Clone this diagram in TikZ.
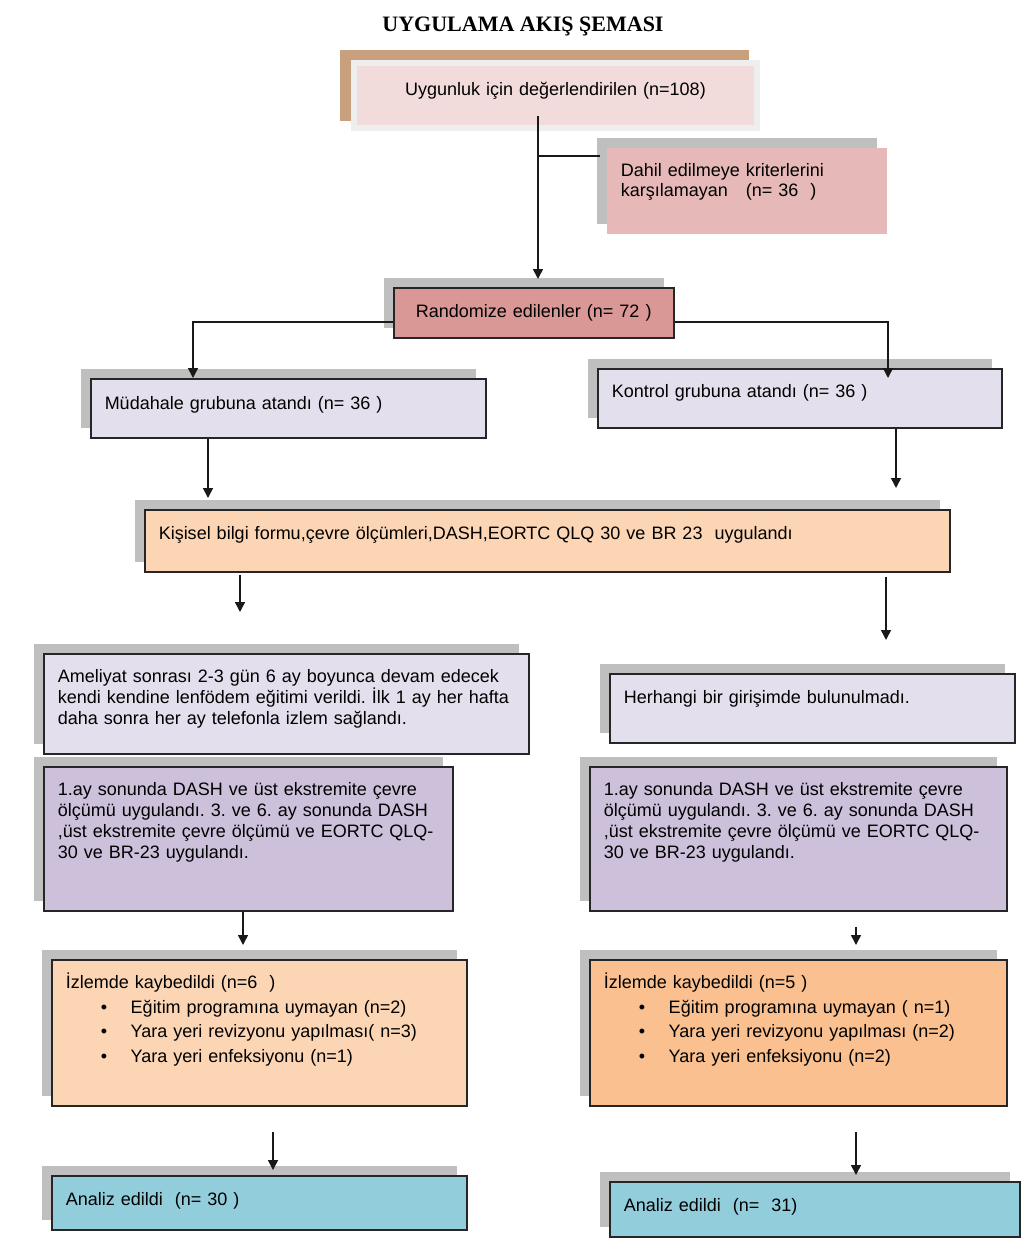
\documentclass[tikz,border=0pt]{standalone}
\usepackage{fontspec}
\setmainfont{Liberation Sans}
\newfontfamily\titlefont{Liberation Serif}
\usepackage{xcolor}
\usetikzlibrary{arrows.meta, shadows, calc}

\definecolor{shadowgray}{HTML}{BFBFBF}
\definecolor{tanshadow}{HTML}{C9A07E}
\definecolor{paleborder}{HTML}{EEEEEE}
\definecolor{palepink}{HTML}{F2DCDB}
\definecolor{rosebox}{HTML}{E6B8B7}
\definecolor{randred}{HTML}{D99795}
\definecolor{lilac}{HTML}{E4DFEC}
\definecolor{purplebox}{HTML}{CCC0DA}
\definecolor{peach}{HTML}{FCD5B4}
\definecolor{orangebox}{HTML}{FAC090}
\definecolor{cyanbox}{HTML}{92CDDC}

\newcommand{\bulletline}[1]{\makebox[65pt][l]{\hspace{35pt}\textbullet}#1}
\frenchspacing

\begin{document}
\begin{tikzpicture}[x=1pt, y=-1pt,
    box/.style={draw=black!85, line width=1.5pt, anchor=north west, align=left,
      inner xsep=14pt, inner ysep=0pt, font=\fontsize{18}{21}\selectfont},
    shadowed/.style={general shadow={fill=shadowgray, shadow xshift=-10pt, shadow yshift=10pt}},
    arr/.style={-{Triangle[width=10pt, length=10pt]}, line width=1.5pt, black!90}]
  \useasboundingbox (0,0) rectangle (1024,1253);

  \node[font=\titlefont\bfseries\fontsize{22}{26}\selectfont] (title) at (523,26) {UYGULAMA AKIŞ ŞEMASI};

  \node[box, draw=paleborder, line width=6pt, fill=palepink, align=center, text width=375pt, text height=32pt, text depth=33pt,
    general shadow={fill=tanshadow, draw=tanshadow, line width=6pt, shadow xshift=-11pt, shadow yshift=10pt}]
    (uyg) at (351,60) {Uygunluk için değerlendirilen (n=108)};
  \node[box, shadowed, draw=none, fill=rosebox, text width=252pt, text height=29pt, text depth=57pt, font=\fontsize{18}{20}\selectfont]
    (dah) at (606,147) {Dahil edilmeye kriterlerini\\karşılamayan~~~(n=~36~~)};
  \node[box, shadowed, fill=randred, align=center, text width=252pt, text height=30pt, text depth=20pt]
    (rand) at (393,287) {Randomize edilenler (n= 72 )};
  \node[box, shadowed, fill=lilac, text width=367pt, text height=31pt, text depth=28pt]
    (mud) at (90,378) {Müdahale grubuna atandı (n= 36 )};
  \node[box, shadowed, fill=lilac, text width=376pt, text height=29pt, text depth=30pt]
    (kon) at (597,368) {Kontrol grubuna atandı (n= 36 )};
  \node[box, shadowed, fill=peach, text width=777pt, text height=30pt, text depth=32pt]
    (kis) at (144,509) {Kişisel bilgi formu,çevre ölçümleri,DASH,EORTC QLQ 30 ve BR 23~~uygulandı};
  \node[box, shadowed, fill=lilac, text width=457pt, text height=29pt, text depth=71pt]
    (ame) at (43,653) {Ameliyat sonrası 2-3 gün 6 ay boyunca devam edecek\\kendi kendine lenfödem eğitimi verildi. İlk 1 ay her hafta\\daha sonra her ay telefonla izlem sağlandı.};
  \node[box, shadowed, fill=lilac, text width=377pt, text height=30pt, text depth=39pt]
    (her) at (609,673) {Herhangi bir girişimde bulunulmadı.};
  \node[box, shadowed, fill=purplebox, text width=381pt, text height=29pt, text depth=115pt]
    (lay) at (43,766) {1.ay sonunda DASH ve üst ekstremite çevre\\ölçümü uygulandı. 3. ve 6. ay sonunda DASH\\,üst ekstremite çevre ölçümü ve EORTC QLQ-\\30 ve BR-23 uygulandı.};
  \node[box, shadowed, fill=purplebox, text width=389pt, text height=29pt, text depth=115pt]
    (ray) at (589,766) {1.ay sonunda DASH ve üst ekstremite çevre\\ölçümü uygulandı. 3. ve 6. ay sonunda DASH\\,üst ekstremite çevre ölçümü ve EORTC QLQ-\\30 ve BR-23 uygulandı.};
  \node[box, shadowed, fill=peach, text width=387pt, text height=29pt, text depth=117pt, font=\fontsize{18}{24.5}\selectfont]
    (izl) at (51,959) {İzlemde kaybedildi (n=6~~)\\\bulletline{Eğitim programına uymayan (n=2)}\\\bulletline{Yara yeri revizyonu yapılması( n=3)}\\\bulletline{Yara yeri enfeksiyonu (n=1)}};
  \node[box, shadowed, fill=orangebox, text width=389pt, text height=29pt, text depth=117pt, font=\fontsize{18}{24.5}\selectfont]
    (izr) at (589,959) {İzlemde kaybedildi (n=5 )\\\bulletline{Eğitim programına uymayan ( n=1)}\\\bulletline{Yara yeri revizyonu yapılması (n=2)}\\\bulletline{Yara yeri enfeksiyonu (n=2)}};
  \node[box, shadowed, fill=cyanbox, text width=387pt, text height=30pt, text depth=24pt]
    (anl) at (51,1175) {Analiz edildi~~(n= 30 )};
  \node[box, shadowed, fill=cyanbox, text width=382pt, text height=30pt, text depth=25pt]
    (anr) at (609,1181) {Analiz edildi~~(n=~~31)};

  \coordinate (split) at (538,156);
  \coordinate (mudin) at (193,378);
  \coordinate (konin) at (888,378);
  \coordinate (kisL) at (208,498);
  \coordinate (kisR) at (896,488);
  \coordinate (ameIn) at (240,612);
  \coordinate (herIn) at (886,640);
  \coordinate (izlIn) at (243,945);
  \coordinate (izrIn) at (856,945);
  \coordinate (anlIn) at (273,1170);
  \coordinate (anrIn) at (856,1175);

  \draw[arr] ($(uyg.south -| split)+(0,-15)$) -- ($(rand.north -| split)+(0,-8)$);
  \draw[line width=1.5pt, black!90] (split) -- ($(dah.west |- split)+(-6,0)$);
  \draw[arr] ($(rand.west)+(0,9)$) -| (mudin);
  \draw[arr] ($(rand.east)+(0,9)$) -| (konin);
  \draw[arr] (mud.south -| kisL) -- (kisL);
  \draw[arr] (kon.south -| kisR) -- (kisR);
  \draw[arr] ($(kis.south -| ameIn)+(0,2)$) -- (ameIn);
  \draw[arr] ($(kis.south -| herIn)+(0,4)$) -- (herIn);
  \draw[arr] (lay.south -| izlIn) -- (izlIn);
  \draw[arr] ($(ray.south -| izrIn)+(0,15)$) -- (izrIn);
  \draw[arr] ($(izl.south -| anlIn)+(0,25)$) -- (anlIn);
  \draw[arr] ($(izr.south -| anrIn)+(0,25)$) -- (anrIn);
\end{tikzpicture}
\end{document}
